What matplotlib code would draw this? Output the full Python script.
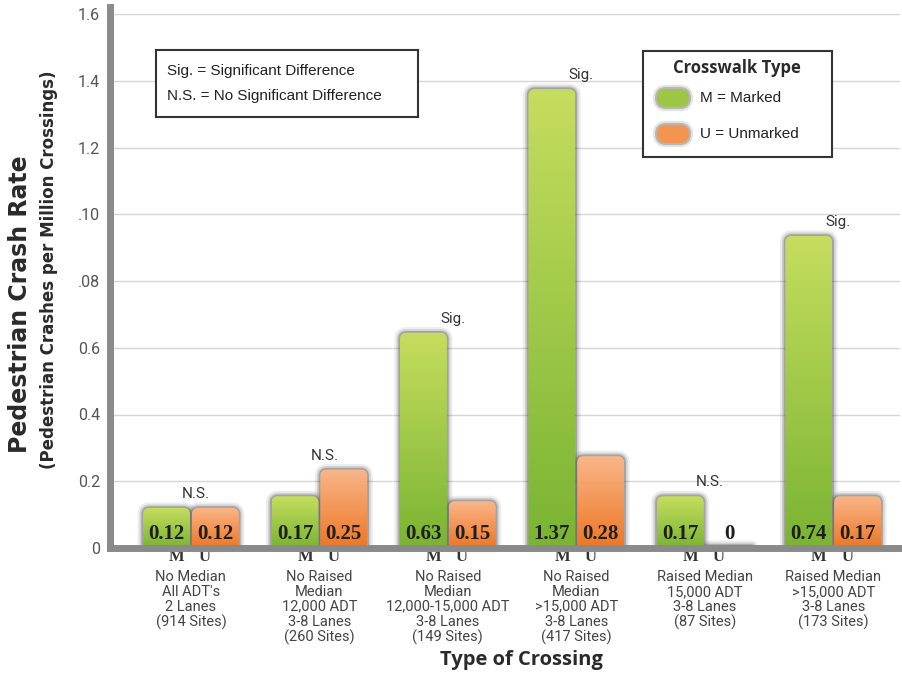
import matplotlib
matplotlib.use("Agg")
import matplotlib.pyplot as plt
import numpy as np
from matplotlib.patches import FancyBboxPatch
from matplotlib.colors import LinearSegmentedColormap

categories = [
    "No Median\nAll ADT's\n2 Lanes\n(914 Sites)",
    "No Raised\nMedian\n12,000 ADT\n3-8 Lanes\n(260 Sites)",
    "No Raised\nMedian\n12,000-15,000 ADT\n3-8 Lanes\n(149 Sites)",
    "No Raised\nMedian\n>15,000 ADT\n3-8 Lanes\n(417 Sites)",
    "Raised Median\n15,000 ADT\n3-8 Lanes\n(87 Sites)",
    "Raised Median\n>15,000 ADT\n3-8 Lanes\n(173 Sites)",
]
marked = [0.12, 0.155, 0.645, 1.375, 0.155, 0.935]
unmarked = [0.12, 0.235, 0.14, 0.275, 0.006, 0.155]
marked_labels = ["0.12", "0.17", "0.63", "1.37", "0.17", "0.74"]
unmarked_labels = ["0.12", "0.25", "0.15", "0.28", "0", "0.17"]
significance = ["N.S.", "N.S.", "Sig.", "Sig.", "N.S.", "Sig."]
yticks = [0, 0.2, 0.4, 0.6, 0.8, 1.0, 1.2, 1.4, 1.6]
ytick_labels = ["0", "0.2", "0.4", "0.6", ".08", ".10", "1.2", "1.4", "1.6"]

W, H = 903, 673
NARROW = ["Roboto", "DejaVu Sans"]
SERIF = ["Liberation Serif", "DejaVu Serif"]
HEAD = ["Open Sans", "DejaVu Sans"]
WIDE = ["DejaVu Sans"]
PLAIN = ["Liberation Sans", "DejaVu Sans"]

green = LinearSegmentedColormap.from_list("g", ["#79b432", "#c6dd5e"])
orange = LinearSegmentedColormap.from_list("o", ["#ed7624", "#f9b689"])

fig = plt.figure(figsize=(W / 100, H / 100), dpi=100)
ax = fig.add_axes([110 / W, 125 / H, 790 / W, 534 / H])
ax.set_xlim(-0.63, 5.52)
ax.set_ylim(0, 1.6)

# px per data unit, used to keep the corner rounding circular
aspect = (790 / 6.15) / (534 / 1.6)
grad = np.linspace(0, 1, 256).reshape(-1, 1)


def rounded_bar(x, h, cmap):
    w = 0.365
    r = min(0.05, h / aspect / 2)
    for lw, a in [(8, 0.10), (5, 0.18), (2.5, 0.35)]:
        sh = FancyBboxPatch((x - w / 2, -0.02), w, h + 0.02,
                            boxstyle=f"round,pad=0,rounding_size={r}",
                            mutation_aspect=aspect, fc="none",
                            ec="#505050", lw=lw, alpha=a, zorder=2)
        ax.add_patch(sh)
    patch = FancyBboxPatch((x - w / 2, -0.02), w, h + 0.02,
                           boxstyle=f"round,pad=0,rounding_size={r}",
                           mutation_aspect=aspect, fc="none", ec="none",
                           zorder=3)
    ax.add_patch(patch)
    im = ax.imshow(grad, cmap=cmap, origin="lower", aspect="auto",
                   extent=[x - w / 2, x + w / 2, 0, max(h, 0.01)], zorder=3)
    im.set_clip_path(patch)


for i in range(len(categories)):
    rounded_bar(i - 0.19, marked[i], green)
    rounded_bar(i + 0.19, unmarked[i], orange)
    ax.text(i - 0.19, 0.043, marked_labels[i], ha="center", va="center",
            family=SERIF, fontweight="bold", fontsize=15, color="#1e1e1e",
            zorder=5)
    ax.text(i + 0.19, 0.043, unmarked_labels[i], ha="center", va="center",
            family=SERIF, fontweight="bold", fontsize=15, color="#1e1e1e",
            zorder=5)
    ax.text(i - 0.11, -0.028, "M", ha="center", va="center", family=SERIF,
            fontweight="bold", fontsize=12, color="#333333", clip_on=False)
    ax.text(i + 0.11, -0.028, "U", ha="center", va="center", family=SERIF,
            fontweight="bold", fontsize=12, color="#333333", clip_on=False)
    ax.text(i, -0.066, categories[i], ha="center", va="top", family=NARROW,
            fontsize=10.5, linespacing=1.08, color="#444444", clip_on=False)
    top = max(marked[i], unmarked[i])
    ax.text(i + 0.04, top + 0.042, significance[i], ha="center",
            va="center", family=NARROW, fontsize=11, color="#333333")

ax.set_yticks(yticks)
ax.set_yticklabels(ytick_labels, family=NARROW, fontsize=11.5,
                   color="#555555")
ax.set_xticks([])
ax.tick_params(axis="y", length=0, pad=7)
ax.grid(axis="y", color="#d6d6d6", lw=1)
ax.set_axisbelow(True)
for s in ["top", "right"]:
    ax.spines[s].set_visible(False)
for s in ["left", "bottom"]:
    ax.spines[s].set_color("#8a8a8a")
    ax.spines[s].set_linewidth(5)
    ax.spines[s].set_zorder(6)
ax.spines["left"].set_bounds(0, 1.62)

fig.text(20 / W, 1 - 304 / H, "Pedestrian Crash Rate", rotation=90,
         ha="center", va="center", family=WIDE, fontweight="bold",
         fontsize=17, color="#2a2a2a")
fig.text(49 / W, 1 - 270 / H, "(Pedestrian Crashes per Million Crossings)",
         rotation=90, ha="center", va="center", family=WIDE,
         fontweight="bold", fontsize=12, color="#2a2a2a")
fig.text(521 / W, 1 - 660 / H, "Type of Crossing", ha="center",
         va="center", family=HEAD, fontweight="bold", fontsize=14.5,
         color="#2a2a2a")

# significance key
k1 = fig.add_axes([156 / W, 1 - 117 / H, 262 / W, 67 / H])
k1.set_xlim(0, 262)
k1.set_ylim(67, 0)
k1.set_xticks([])
k1.set_yticks([])
for s in k1.spines.values():
    s.set_color("#333333")
    s.set_linewidth(1.5)
k1.text(11, 21, "Sig. = Significant Difference", va="center",
        family=PLAIN, fontsize=11, color="#222222")
k1.text(11, 46, "N.S. = No Significant Difference", va="center",
        family=PLAIN, fontsize=11, color="#222222")

# crosswalk key
k2 = fig.add_axes([643 / W, 1 - 157 / H, 189 / W, 106 / H])
k2.set_xlim(0, 189)
k2.set_ylim(106, 0)
k2.set_xticks([])
k2.set_yticks([])
for s in k2.spines.values():
    s.set_color("#333333")
    s.set_linewidth(1.5)
k2.text(94, 17, "Crosswalk Type", ha="center", va="center", family=HEAD,
        fontweight="bold", fontsize=12, color="#2a2a2a")
for yy, col, lab in [(47, "#9cc746", "M = Marked"),
                     (83, "#f39450", "U = Unmarked")]:
    for lw, a in [(6, 0.15), (3, 0.3)]:
        k2.add_patch(FancyBboxPatch((14, yy - 9), 32, 18,
                                    boxstyle="round,pad=0,rounding_size=9",
                                    fc="none", ec="#505050", lw=lw, alpha=a))
    k2.add_patch(FancyBboxPatch((14, yy - 9), 32, 18,
                                boxstyle="round,pad=0,rounding_size=9",
                                fc=col, ec="none"))
    k2.text(57, yy, lab, va="center", family=PLAIN, fontsize=11,
            color="#222222")

fig.savefig("out.png", dpi=100)
